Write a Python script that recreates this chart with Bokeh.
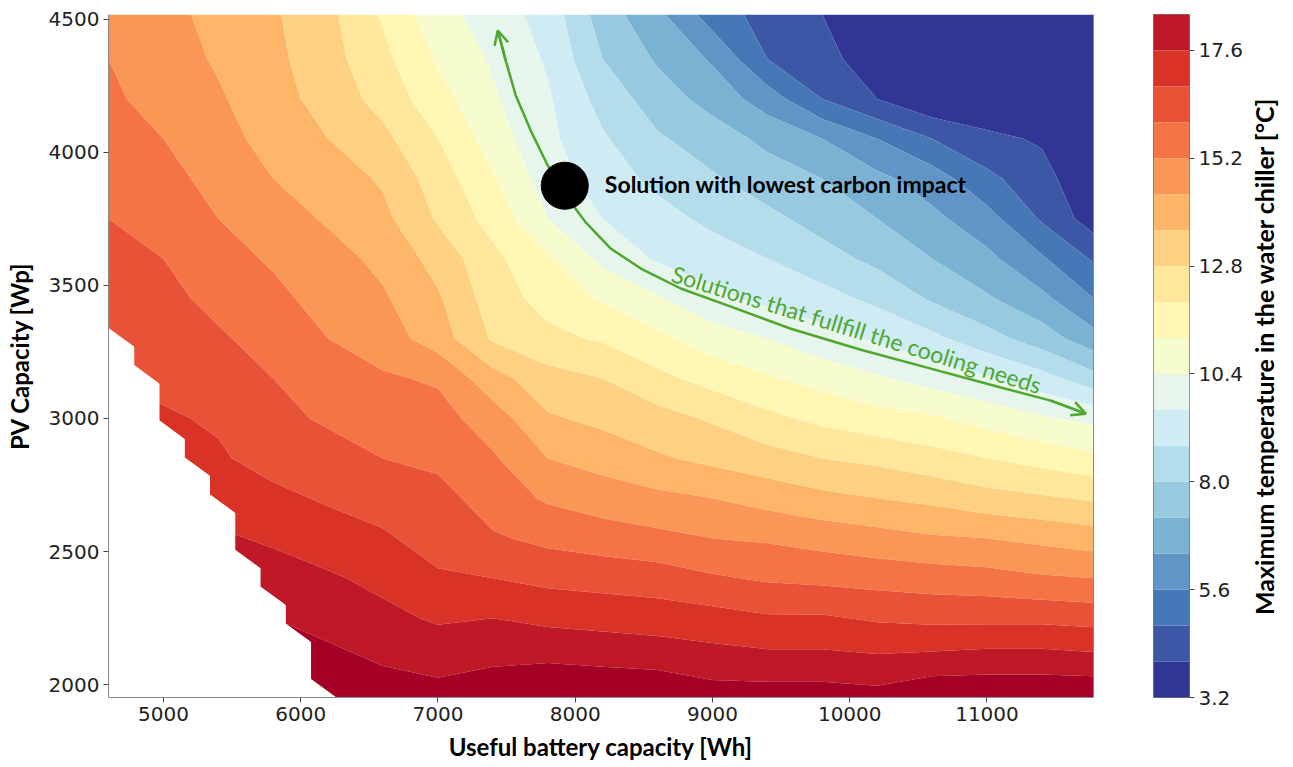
import numpy as np
from bokeh.plotting import figure
from bokeh.layouts import row
from bokeh.models import FixedTicker, LinearAxis, Arrow, OpenHead, NumeralTickFormatter
from bokeh.embed import file_html
from bokeh.resources import INLINE
from bokeh.core.properties import value

# ---------------- data ----------------
battery_wh = [4600, 5000, 5400, 5800, 6200, 6600, 7000, 7400, 7800, 8200,
              8600, 9000, 9400, 9800, 10200, 10600, 11000, 11400, 11776]
pv_wp = [1952, 2100, 2250, 2400, 2550, 2700, 2850, 3000, 3150, 3300,
         3450, 3600, 3750, 3900, 4050, 4200, 4350, 4517]

# maximum water-chiller temperature [°C]; one row per PV capacity (bottom to top)
t_1952 = [19.1, 19.1, 19.1, 19.1, 19.1, 18.8, 18.7, 19.1, 19.1, 19.1, 19.1, 18.8, 18.8, 18.8, 18.7, 19.1, 19.1, 19.1, 19.1]
t_2100 = [19.1, 19.1, 19.0, 18.8, 18.6, 18.3, 18.1, 18.2, 18.3, 18.2, 18.1, 17.9, 17.8, 17.8, 17.7, 17.8, 17.9, 17.9, 17.8]
t_2250 = [19.0, 18.8, 18.6, 18.4, 18.1, 17.8, 17.5, 17.6, 17.4, 17.3, 17.2, 17.1, 16.9, 16.9, 16.7, 16.6, 16.6, 16.6, 16.5]
t_2400 = [18.6, 18.4, 18.2, 17.9, 17.7, 17.4, 16.9, 16.8, 16.6, 16.5, 16.4, 16.1, 15.9, 15.8, 15.7, 15.6, 15.5, 15.3, 15.2]
t_2550 = [18.2, 18.0, 17.7, 17.5, 17.2, 16.9, 16.5, 16.1, 15.8, 15.6, 15.4, 15.2, 15.1, 14.9, 14.7, 14.5, 14.4, 14.2, 14.0]
t_2700 = [17.8, 17.6, 17.3, 17.0, 16.7, 16.5, 16.3, 15.6, 15.1, 14.8, 14.6, 14.4, 14.1, 13.8, 13.6, 13.4, 13.1, 12.9, 12.7]
t_2850 = [17.4, 17.2, 16.9, 16.5, 16.3, 16.0, 15.8, 15.3, 14.4, 14.1, 13.7, 13.4, 13.1, 12.8, 12.6, 12.3, 12.0, 11.7, 11.4]
t_3000 = [17.1, 16.9, 16.7, 16.2, 15.9, 15.7, 15.5, 14.8, 13.7, 13.4, 13.1, 12.7, 12.2, 11.8, 11.5, 11.3, 10.9, 10.5, 10.2]
t_3150 = [16.8, 16.6, 16.4, 16.0, 15.6, 15.3, 15.1, 13.9, 13.1, 12.8, 12.2, 11.7, 11.3, 10.9, 10.5, 10.1, 9.7, 9.1, 8.3]
t_3300 = [16.5, 16.4, 16.1, 15.7, 15.2, 14.8, 14.0, 12.7, 12.2, 11.9, 11.4, 10.8, 10.4, 9.9, 9.5, 9.0, 8.3, 7.6, 6.7]
t_3450 = [16.3, 16.2, 15.8, 15.4, 14.9, 14.5, 13.7, 12.4, 11.7, 11.1, 10.5, 9.8, 9.4, 9.1, 8.6, 7.9, 7.3, 6.6, 5.6]
t_3600 = [16.2, 16.0, 15.5, 15.1, 14.7, 14.2, 13.3, 12.2, 11.3, 10.2, 9.5, 9.2, 8.8, 8.3, 7.8, 7.2, 6.6, 5.7, 4.7]
t_3750 = [16.0, 15.7, 15.2, 14.8, 14.3, 13.8, 12.7, 11.7, 10.4, 9.6, 9.1, 8.6, 8.2, 7.7, 7.2, 6.6, 5.9, 4.7, 3.6]
t_3900 = [15.7, 15.4, 15.0, 14.4, 14.0, 13.5, 12.4, 11.3, 10.0, 9.2, 8.6, 8.1, 7.6, 7.2, 6.6, 6.0, 5.0, 4.3, 3.3]
t_4050 = [15.5, 15.2, 14.7, 14.1, 13.6, 13.0, 12.0, 10.8, 9.8, 8.9, 8.1, 7.6, 7.0, 6.4, 5.6, 4.8, 4.2, 3.9, 3.4]
t_4200 = [15.3, 15.0, 14.5, 13.9, 13.3, 12.5, 11.5, 10.5, 9.7, 8.5, 7.6, 6.9, 6.0, 4.8, 4.0, 3.3, 3.3, 3.3, 3.3]
t_4350 = [15.2, 14.8, 14.3, 13.8, 13.1, 12.2, 11.1, 10.3, 9.5, 8.0, 7.1, 6.3, 4.8, 4.3, 3.5, 3.3, 3.3, 3.3, 3.3]
t_4517 = [15.0, 14.6, 14.2, 13.7, 13.0, 11.9, 10.7, 10.0, 9.3, 7.6, 6.6, 5.2, 4.5, 4.0, 3.3, 3.3, 3.3, 3.3, 3.3]
temperature = [t_1952, t_2100, t_2250, t_2400, t_2550, t_2700, t_2850, t_3000, t_3150,
               t_3300, t_3450, t_3600, t_3750, t_3900, t_4050, t_4200, t_4350, t_4517]

levels = [round(3.2 + 0.8 * k, 1) for k in range(21)]
cbar_ticks = [3.2, 5.6, 8.0, 10.4, 12.8, 15.2, 17.6]
x_ticks = [5000, 6000, 7000, 8000, 9000, 10000, 11000]
y_ticks = [2000, 2500, 3000, 3500, 4000, 4500]

# edge of the simulated (feasible) domain: below it no solution was computed
limit_bat = [4600, 4784, 4784, 4968, 4968, 5152, 5152, 5336, 5336, 5520,
             5520, 5704, 5704, 5888, 5888, 6072, 6072, 6256]
limit_pv = [3338, 3269, 3200, 3130, 2992, 2922, 2853, 2784, 2714, 2645,
            2506, 2437, 2368, 2299, 2229, 2160, 2021, 1952]

# annotation: path of the solutions that fulfil the cooling needs
curve_bat = [7436, 7494, 7567, 7676, 7800, 7931, 8077, 8259, 8478, 8769,
             9134, 9571, 10081, 10591, 11101, 11465, 11720]
curve_pv = [4457, 4344, 4213, 4081, 3950, 3837, 3736, 3638, 3563, 3488,
            3420, 3337, 3258, 3187, 3116, 3067, 3018]
best_bat, best_pv = 7924, 3874
best_text = "Solution with lowest carbon impact"
best_text_bat, best_text_pv = 8216, 3882
needs_text = "Solutions that fullfill the cooling needs"
needs_text_bat, needs_text_pv = 10051, 3335

x_label = "Useful battery capacity [Wh]"
y_label = "PV Capacity [Wp]"
cbar_label = "Maximum temperature in the water chiller [°C]"

# ---------------- style ----------------
anchors = ["#313695", "#4575b4", "#74add1", "#abd9e9", "#e0f3f8", "#ffffbf",
           "#fee090", "#fdae61", "#f46d43", "#d73027", "#a50026"]   # RdYlBu reversed
def cmap(t):
    f = t * 10
    k = min(int(f), 9)
    fr = f - k
    a = [int(anchors[k][n:n + 2], 16) for n in (1, 3, 5)]
    b = [int(anchors[k + 1][n:n + 2], 16) for n in (1, 3, 5)]
    return "#%02x%02x%02x" % tuple(round(a[m] + (b[m] - a[m]) * fr) for m in range(3))
band_colors = [cmap(k / 19) for k in range(20)]

GREEN = "#4ea72e"
TICK_FONT = "DejaVu Sans"
LABEL_FONT = "Lato"

# ---------------- main plot ----------------
p = figure(frame_width=985, frame_height=683, x_range=(4600, 11776), y_range=(1952, 4517),
           min_border_left=108, min_border_right=20, min_border_top=14, min_border_bottom=40,
           toolbar_location=None, output_backend="svg", outline_line_color=None)
p.contour(battery_wh, pv_wp, np.array(temperature), levels=levels, fill_color=band_colors)
p.patch(limit_bat + [limit_bat[0]], limit_pv + [limit_pv[-1]],
        fill_color="white", line_color="white", line_width=1)

p.line(curve_bat, curve_pv, line_color=GREEN, line_width=2.5)
p.add_layout(Arrow(end=OpenHead(size=14, line_color=GREEN, line_width=2.5),
                   x_start=curve_bat[1], y_start=curve_pv[1], x_end=curve_bat[0], y_end=curve_pv[0],
                   line_color=GREEN, line_width=2.5))
p.add_layout(Arrow(end=OpenHead(size=14, line_color=GREEN, line_width=2.5),
                   x_start=curve_bat[-2], y_start=curve_pv[-2], x_end=curve_bat[-1], y_end=curve_pv[-1],
                   line_color=GREEN, line_width=2.5))
p.scatter([best_bat], [best_pv], size=47, color="black")
p.text([best_text_bat], [best_text_pv], text=[best_text], text_font=value(LABEL_FONT),
       text_font_style="bold", text_font_size="23px", text_baseline="middle", text_align="left",
       text_color="black")
p.text([needs_text_bat], [needs_text_pv], text=[needs_text], text_font=value(LABEL_FONT),
       text_font_size="23px", text_baseline="middle", text_align="center", text_color=GREEN,
       angle=-0.297)

p.grid.visible = False
for ax in (p.xaxis[0], p.yaxis[0]):
    ax.major_label_text_font = TICK_FONT
    ax.major_label_text_font_size = "20px"
    ax.major_label_text_color = "#222222"
    ax.axis_line_color = "#888888"
    ax.major_tick_line_color = "#444444"
    ax.major_tick_out = 5
    ax.major_tick_in = 0
    ax.minor_tick_line_color = None
    ax.axis_label_text_font = LABEL_FONT
    ax.axis_label_text_font_style = "bold"
    ax.axis_label_text_font_size = "24px"
    ax.axis_label_text_color = "black"
p.xaxis.ticker = FixedTicker(ticks=x_ticks)
p.yaxis.ticker = FixedTicker(ticks=y_ticks)
p.xaxis.axis_label = x_label
p.yaxis.axis_label = y_label
p.xaxis.major_label_standoff = 4
p.xaxis.axis_label_standoff = 8
p.yaxis.major_label_standoff = 4
p.yaxis.axis_label_standoff = 12
p.add_layout(LinearAxis(ticker=FixedTicker(ticks=[]), axis_line_color="#888888",
                        major_tick_line_color=None, minor_tick_line_color=None,
                        major_label_text_font_size="0px"), "right")

# ---------------- colour bar ----------------
cb = figure(frame_width=36, frame_height=683, x_range=(0, 1), y_range=(levels[0], levels[-2]),
            x_axis_type=None, y_axis_location="right", min_border_left=40, min_border_right=0,
            min_border_top=14, min_border_bottom=30, toolbar_location=None, output_backend="svg",
            outline_line_color="#777777")
cb.quad(left=0, right=1, bottom=levels[:-2], top=levels[1:-1], fill_color=band_colors[:19],
        line_color=None)
cb.grid.visible = False
cb.yaxis.ticker = FixedTicker(ticks=cbar_ticks)
cb.yaxis.formatter = NumeralTickFormatter(format="0.0")
cb.yaxis.major_label_text_font = TICK_FONT
cb.yaxis.major_label_text_font_size = "20px"
cb.yaxis.major_label_text_color = "#222222"
cb.yaxis.axis_line_color = None
cb.yaxis.major_tick_line_color = "#444444"
cb.yaxis.major_tick_out = 5
cb.yaxis.major_tick_in = 0
cb.yaxis.minor_tick_line_color = None
cb.yaxis.major_label_standoff = 4

tf = figure(frame_width=34, frame_height=683, x_range=(0, 1), y_range=(0, 1),
            x_axis_type=None, y_axis_type=None, min_border_left=0, min_border_right=0,
            min_border_top=14, min_border_bottom=30, toolbar_location=None, output_backend="svg",
            outline_line_color=None)
tf.grid.visible = False
tf.text([0.5], [0.5], text=[cbar_label], angle=np.pi / 2, text_align="center",
        text_baseline="middle", text_font=value(LABEL_FONT), text_font_style="bold",
        text_font_size="25px", text_color="black")

layout = row(p, cb, tf)
open("out.html", "w").write(file_html(layout, INLINE))
